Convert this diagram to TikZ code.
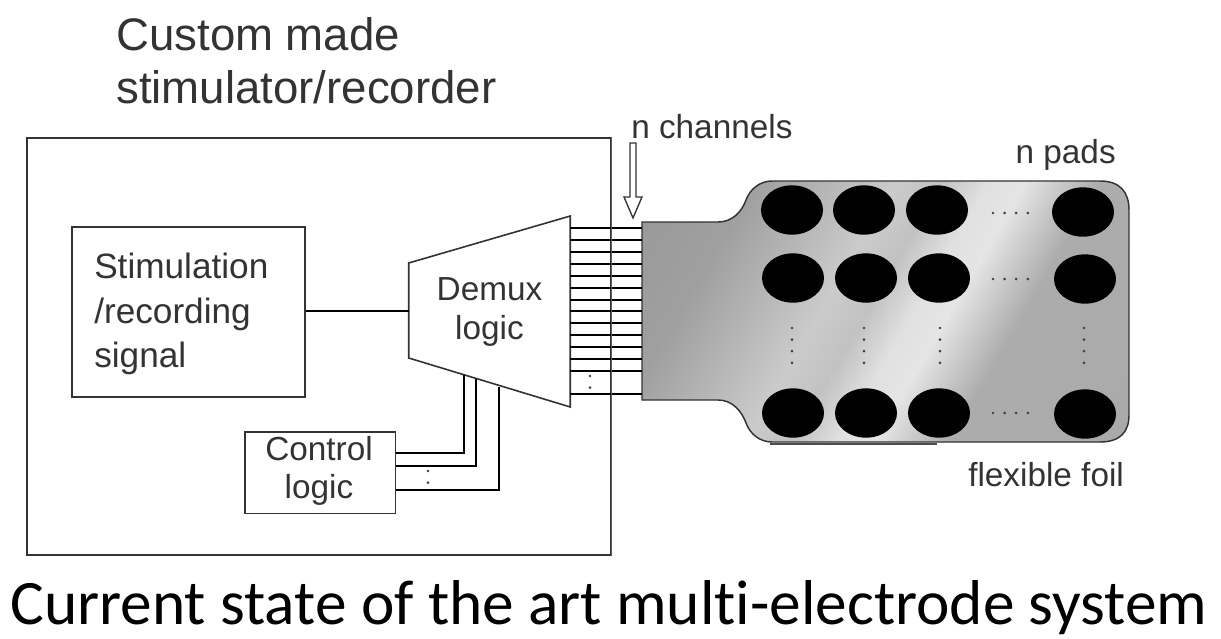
\documentclass[tikz,border=0pt]{standalone}
\usepackage{fontspec}
\setmainfont{Liberation Sans}
\newfontfamily\captionfont[Ligatures=NoCommon]{Carlito}
\usetikzlibrary{calc,shapes.geometric}

\definecolor{foilgray}{HTML}{A8A8A8}
\definecolor{inkgray}{HTML}{333333}
\pgfdeclarehorizontalshading{foilshade}{100bp}{
  color(0bp)=(foilgray!85!black); color(28bp)=(foilgray!95!black); color(37bp)=(foilgray!80!white); color(43bp)=(foilgray!60!white);
  color(48bp)=(foilgray!70!white); color(53bp)=(foilgray!35!white); color(57bp)=(foilgray!30!white); color(65bp)=(foilgray!95!white); color(100bp)=(foilgray)}

\begin{document}
\begin{tikzpicture}[x=.75pt,y=-.75pt,
			box/.style = {rectangle,draw=inkgray,line width=1.2pt,fill=white,inner sep=0pt},
			label/.style = {inner sep=0pt,text=inkgray,font=\fontsize{25}{29}\selectfont,align=left},
			hidden/.style = {rectangle,inner sep=0pt},
			wire/.style = {black,line width=1.7pt},
			pad/.style = {ellipse,fill=black,minimum width=46.5pt,minimum height=37pt,inner sep=0pt},
			dots/.style = {line width=2.2pt,line cap=round,dash pattern=on 0pt off 8.7pt,black!75}]

\useasboundingbox (0,0) rectangle (1221,639);

\node[label,font=\fontsize{34.2}{40}\selectfont,anchor=north west] (title) at (116,17) {Custom made\\stimulator/recorder};
\node[box,minimum width=438pt,minimum height=312.75pt,anchor=north west] (case) at (26,137) {};
\node[box,minimum width=174.75pt,minimum height=127.5pt,anchor=north west] (signal) at (71,226) {};
\node[label,font=\fontsize{26.4}{33.4}\selectfont,anchor=west] (signaltext) at (94,314) {Stimulation\\/recording\\signal};
\node[hidden,minimum width=120.75pt,minimum height=143.25pt] (demux) at (489.5,311.5) {};
\node[box,draw=none,fill=none,minimum width=111.75pt,minimum height=60pt,anchor=north west] (control) at (245,432) {};
\node[label,anchor=west] (channels) at (631,127) {n channels};
\node[label,anchor=east] (pads) at (1116,155) {n pads};
\node[label,anchor=west] (foiltext) at (968,475) {flexible foil};
\node[anchor=west,inner sep=0pt,font=\fontsize{47.5}{50}\selectfont\captionfont,text=black] (caption) at (10,608) {Current state of the art multi-electrode system};

% foil
\node[hidden,minimum width=365.25pt,minimum height=195.75pt,anchor=north west] (foil) at (642,181) {};
\path[draw=inkgray,line width=1.1pt,shading=foilshade,shading angle=-30]
	(foil.west |- 0,222) -- (718,222) .. controls (733,222) and (742,211) .. (746,200)
	.. controls (750,189) and (760,181) .. (772,181)
	-- (1100,181) .. controls (1120,181) and (1129,192) .. (1129,210)
	-- (1129,415) .. controls (1129,432) and (1120,442) .. (1100,442)
	-- (772,442) .. controls (760,442) and (750,434) .. (746,423)
	.. controls (742,412) and (733,400) .. (718,400)
	-- (foil.west |- 0,400) -- cycle;
\draw[black!70,line width=1.5pt] (770,444) -- (937,444);

% trapezoid
\draw[inkgray,line width=1.2pt,fill=white] (demux.west |- 0,263) -- (demux.east |- 0,216)
	-- (demux.east |- 0,407) -- (demux.west |- 0,358) -- cycle;
\node[label,align=center] (demuxtext) at (489.5,312) {Demux\\logic};

\draw[box] (control.north west) rectangle (control.south east);
\node[label,align=center] (controltext) at (319,471) {Control\\logic};

\draw[wire] (signal.east |- 0,311) -- (demux.west |- 0,311);

\draw[wire] (demux.east |- 0,228) -- (foil.west |- 0,228);
\draw[wire] (demux.east |- 0,240) -- (foil.west |- 0,240);
\draw[wire] (demux.east |- 0,252) -- (foil.west |- 0,252);
\draw[wire] (demux.east |- 0,264) -- (foil.west |- 0,264);
\draw[wire] (demux.east |- 0,276) -- (foil.west |- 0,276);
\draw[wire] (demux.east |- 0,288) -- (foil.west |- 0,288);
\draw[wire] (demux.east |- 0,300) -- (foil.west |- 0,300);
\draw[wire] (demux.east |- 0,311) -- (foil.west |- 0,311);
\draw[wire] (demux.east |- 0,323) -- (foil.west |- 0,323);
\draw[wire] (demux.east |- 0,335) -- (foil.west |- 0,335);
\draw[wire] (demux.east |- 0,347) -- (foil.west |- 0,347);
\draw[wire] (demux.east |- 0,359) -- (foil.west |- 0,359);
\draw[wire] (demux.east |- 0,371) -- (foil.west |- 0,371);
\draw[wire] (demux.east |- 0,394) -- (foil.west |- 0,394);
\draw[dots] (590,376) -- (590,392);

% the case edge runs over the wires
\draw[inkgray!80,line width=1.2pt] (case.north east) -- (case.south east);

\draw[wire] (control.east |- 0,453) -| (464,375);
\draw[wire] (control.east |- 0,466) -| (476,379);
\draw[wire] (control.east |- 0,490) -| (499,387);
\draw[dots] (428,471) -- (428,487);

% hollow arrow
\draw[inkgray,line width=1pt,fill=white] (630,143) -- (636,143) -- (636,197) -- (642,197)
	-- (633,218) -- (624,197) -- (630,197) -- cycle;

\node[pad] (pad11) at (792,210) {};
\node[pad] (pad12) at (864,210) {};
\node[pad] (pad13) at (937,210) {};
\node[pad] (pad14) at (1083,212) {};

\node[pad] (pad21) at (793,278) {};
\node[pad] (pad22) at (866,278) {};
\node[pad] (pad23) at (939,278) {};
\node[pad] (pad24) at (1085,279) {};

\node[pad] (pad31) at (793,413) {};
\node[pad] (pad32) at (866,413) {};
\node[pad] (pad33) at (939,413) {};
\node[pad] (pad34) at (1085,414) {};

\draw[dots] (993,213) -- (1030,213);
\draw[dots] (993,279) -- (1030,279);
\draw[dots] (993,413) -- (1030,413);
\draw[dots] (792,328) -- (792,365);
\draw[dots] (864,328) -- (864,365);
\draw[dots] (940,328) -- (940,365);
\draw[dots] (1084,328) -- (1084,365);

\end{tikzpicture}
\end{document}
